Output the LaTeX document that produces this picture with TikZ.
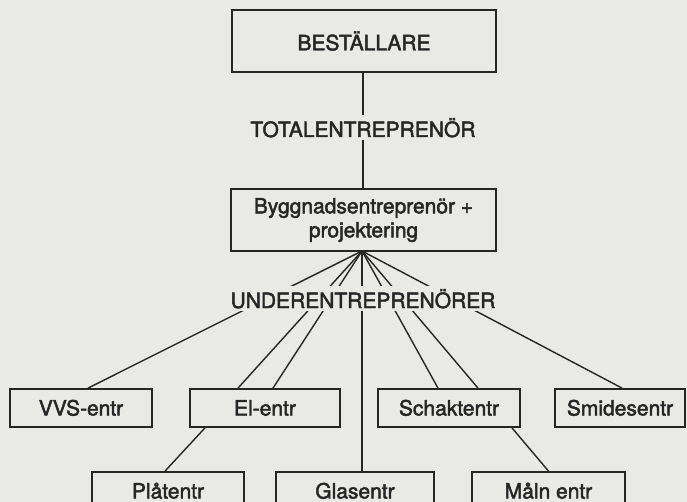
\documentclass[tikz,border=0pt]{standalone}
\usepackage{fontspec}
\setmainfont{TeX Gyre Heros}[UprightFeatures={FakeBold=2.2}]
\definecolor{paper}{RGB}{233,234,230}
\definecolor{ink}{RGB}{38,38,38}

\begin{document}
\begin{tikzpicture}[x=1pt, y=-1pt,
    box/.style={rectangle, draw=ink, line width=1.8pt, fill=paper, inner sep=0pt, text=ink, align=center, font=\fontsize{21}{24}\selectfont},
    leaf/.style={box, minimum height=38pt, text height=15pt, text depth=0pt},
    title/.style={fill=paper, inner xsep=2pt, inner ysep=0pt, text=ink, text height=22pt, text depth=3pt, anchor=base, font=\fontsize{21}{24}\selectfont},
    link/.style={draw=ink, line width=1.4pt}
]
    % Page
    \useasboundingbox (0,0) rectangle (687,502);
    \clip (0,0) rectangle (687,502);
    \fill[paper] (0,0) rectangle (687,502);

    % Top part
    \node[box, minimum width=264pt, minimum height=62pt] (best) at (364,41) {BESTÄLLARE};
    \node[box, minimum width=265pt, minimum height=62pt] (bygg) at (363.5,220) {Byggnadsentreprenör +\\projektering};
    \node[title] (total) at (363,137) {TOTALENTREPRENÖR};

    % Middle row
    \node[leaf, minimum width=142pt] (vvs) at (81,408) {VVS-entr};
    \node[leaf, minimum width=150pt] (el) at (265,408) {El-entr};
    \node[leaf, minimum width=142pt] (schakt) at (449,408) {Schaktentr};
    \node[leaf, minimum width=130pt] (smide) at (620,408) {Smidesentr};

    % Bottom row
    \node[leaf, minimum width=152pt] (plat) at (168,491) {Plåtentr};
    \node[leaf, minimum width=158pt] (glas) at (355,491) {Glasentr};
    \node[leaf, minimum width=153pt] (maln) at (548.5,491) {Måln entr};

    % Vertical chain
    \draw[link] (total.north |- best.south) -- (total.north);
    \draw[link] (total.south) -- (total.south |- bygg.north);

    % Fan of subcontractors
    \coordinate (fan) at (362,251);
    \draw[link] (fan) -- ([xshift=7pt]vvs.north);
    \draw[link] (fan) -- ([xshift=-27pt]el.north);
    \draw[link] (fan) -- ([xshift=8pt]el.north);
    \draw[link] (fan) -- (fan |- glas.north);
    \draw[link] (fan) -- ([xshift=-11pt]schakt.north);
    \draw[link] (fan) -- ([xshift=29pt]schakt.north);
    \draw[link] (fan) -- ([xshift=2pt]smide.north);
    \node[title] (under) at (363,308) {UNDERENTREPRENÖRER};

    % Second level
    \draw[link] ([xshift=-60pt]el.south) -- ([xshift=-3pt]plat.north);
    \draw[link] ([xshift=63pt]schakt.south) -- (maln.north);
\end{tikzpicture}
\end{document}
